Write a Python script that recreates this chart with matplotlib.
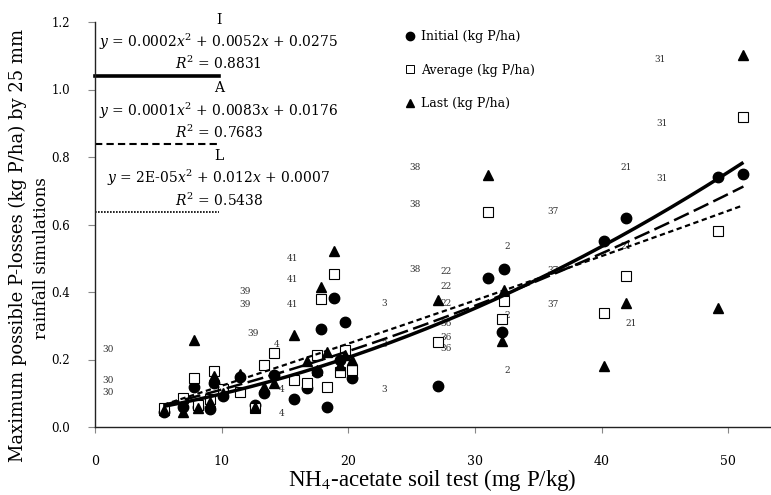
import numpy as np
import matplotlib
matplotlib.use("Agg")
import matplotlib.pyplot as plt
from matplotlib.lines import Line2D

# ---------------- data ----------------
soil_test = [5.4, 6.9, 7.8, 8.1, 9.1, 9.4, 10.1, 11.4, 12.6, 13.3, 14.1, 15.7, 16.7, 17.5,
             17.8, 18.3, 18.85, 19.3, 19.7, 20.25, 27.1, 31.05, 32.1, 32.3, 40.2, 41.95, 49.2, 51.2]
initial = [0.045, 0.060, 0.120, 0.058, 0.052, 0.131, 0.093, 0.147, 0.065, 0.100, 0.154, 0.084, 0.115, 0.164,
           0.289, 0.058, 0.383, 0.200, 0.311, 0.146, 0.121, 0.442, 0.282, 0.467, 0.552, 0.620, 0.740, 0.750]
average = [0.057, 0.087, 0.146, 0.065, 0.082, 0.167, 0.113, 0.105, 0.055, 0.184, 0.218, 0.139, 0.131, 0.213,
           0.379, 0.118, 0.453, 0.164, 0.228, 0.169, 0.251, 0.638, 0.319, 0.372, 0.338, 0.447, 0.580, 0.918]
last = [0.050, 0.045, 0.258, 0.055, 0.075, 0.151, 0.100, 0.157, 0.060, 0.119, 0.129, 0.272, 0.196, 0.170,
        0.415, 0.223, 0.521, 0.184, 0.213, 0.199, 0.376, 0.747, 0.255, 0.406, 0.182, 0.366, 0.352, 1.102]

# site labels (text, x, y)
site_labels = ["31", "31", "31", "21", "21", "21", "37", "37", "37", "2", "2", "2",
               "38", "38", "38", "22", "22", "22", "36", "36", "36", "3", "3", "3",
               "41", "41", "41", "39", "39", "39", "4", "4", "4", "30", "30", "30"]
site_x = [44.6, 44.8, 44.8, 41.95, 41.95, 42.3, 36.2, 36.2, 36.2, 32.55, 32.55, 32.55,
          25.3, 25.3, 25.3, 27.75, 27.75, 27.75, 27.75, 27.75, 27.75, 22.85, 22.85, 22.85,
          15.6, 15.6, 15.6, 11.8, 11.8, 12.5, 14.3, 14.7, 14.7, 1.0, 1.0, 1.0]
site_y = [1.090, 0.899, 0.737, 0.769, 0.534, 0.307, 0.638, 0.463, 0.363, 0.534, 0.330, 0.166,
          0.768, 0.660, 0.467, 0.460, 0.416, 0.367, 0.307, 0.265, 0.233, 0.367, 0.243, 0.112,
          0.500, 0.438, 0.364, 0.401, 0.364, 0.278, 0.243, 0.112, 0.041, 0.231, 0.139, 0.102]

# trend-line coefficients (quadratic: a, b, c)
coef_initial = [0.000187, 0.0052, 0.0275]
coef_average = [0.000103, 0.0083, 0.0176]
coef_last = [0.000016, 0.0120, 0.0007]

key_names = ["I", "A", "L"]
key_equations = [r"$y$ = 0.0002$x^2$ + 0.0052$x$ + 0.0275",
                 r"$y$ = 0.0001$x^2$ + 0.0083$x$ + 0.0176",
                 r"$y$ = 2E-05$x^2$ + 0.012$x$ + 0.0007"]
key_r2 = [r"$R^2$ = 0.8831", r"$R^2$ = 0.7683", r"$R^2$ = 0.5438"]
key_levels = [1.04, 0.838, 0.637]
key_x_end = 9.75

legend_labels = ["Initial (kg P/ha)", "Average (kg P/ha)", "Last (kg P/ha)"]
x_ticks = [0, 10, 20, 30, 40, 50]
y_ticks = [0.0, 0.2, 0.4, 0.6, 0.8, 1.0, 1.2]

# ---------------- figure ----------------
plt.rcParams['font.family'] = ['DejaVu Serif']
plt.rcParams['mathtext.fontset'] = 'dejavuserif'

W, H = 771, 495
fig = plt.figure(figsize=(W / 100, H / 100), dpi=100)
ax = fig.add_axes([95.2 / W, 68 / H, (770 - 95.2) / W, (427 - 22) / H])
ax.set_xlim(0, 53.3)
ax.set_ylim(0, 1.2)

for s in ["top", "right"]:
    ax.spines[s].set_visible(False)
for s in ["left", "bottom"]:
    ax.spines[s].set_linewidth(1.0)
    ax.spines[s].set_color("#222222")

ax.set_xticks(x_ticks)
ax.set_xticklabels([str(t) for t in x_ticks])
ax.set_yticks(y_ticks)
ax.set_yticklabels([f"{t:.1f}" for t in y_ticks])
ax.tick_params(axis="x", direction="out", length=4, width=0.8, color="#888888",
               labelsize=9, pad=16)
ax.tick_params(axis="y", direction="out", length=5, width=0.8, color="#888888",
               labelsize=8.5, pad=13)

# scatter series
ax.plot(soil_test, initial, linestyle="none", marker="o", markersize=7.5,
        color="black", zorder=2)
ax.plot(soil_test, average, linestyle="none", marker="s", markersize=7,
        markerfacecolor="white", markeredgecolor="black", markeredgewidth=0.8, zorder=2)
ax.plot(soil_test, last, linestyle="none", marker="^", markersize=7.5,
        color="black", zorder=2)

# trend lines
xs = np.linspace(min(soil_test), max(soil_test), 200)
ax.plot(xs, np.polyval(coef_initial, xs), color="black", lw=2.5, zorder=3,
        solid_capstyle="butt")
ax.plot(xs, np.polyval(coef_average, xs), color="black", lw=1.8, zorder=3,
        dashes=(6.5, 2.2))
ax.plot(xs, np.polyval(coef_last, xs), color="black", lw=1.6, zorder=3,
        dashes=(2.4, 1.6))

# key lines and equations (top left)
key_styles = [dict(lw=2.6, linestyle="-"),
              dict(lw=1.5, dashes=(3.5, 2.0)),
              dict(lw=1.2, dashes=(1.0, 0.8))]
for name, eq, r2, lev, st in zip(key_names, key_equations, key_r2, key_levels, key_styles):
    ax.plot([0, key_x_end], [lev, lev], color="black", clip_on=False, **st)
    ax.text(key_x_end, lev + 0.166, name, ha="center", va="center", fontsize=10)
    ax.text(key_x_end, lev + 0.100, eq, ha="center", va="center", fontsize=10)
    ax.text(key_x_end, lev + 0.036, r2, ha="center", va="center", fontsize=10)

# site labels
for t, x, y in zip(site_labels, site_x, site_y):
    ax.text(x, y, t, ha="center", va="center", fontsize=6.5, color="#333333", zorder=1)

# legend
handles = [Line2D([], [], linestyle="none", marker="o", markersize=6, color="black"),
           Line2D([], [], linestyle="none", marker="s", markersize=6, markerfacecolor="white",
                  markeredgecolor="black", markeredgewidth=0.7),
           Line2D([], [], linestyle="none", marker="^", markersize=6, color="black")]
ax.legend(handles, legend_labels, loc="upper left", bbox_to_anchor=(405 / W, (H - 30) / H),
          bbox_transform=fig.transFigure, frameon=False, fontsize=9, borderpad=0,
          handlelength=0.8, handletextpad=0.5, labelspacing=1.65, borderaxespad=0)

# axis labels
fig.text(18 / W, 1 - 245 / H, "Maximum possible P-losses (kg P/ha) by 25 mm",
         rotation=90, ha="center", va="center", fontsize=13)
fig.text(42 / W, 1 - 258 / H, "rainfall simulations",
         rotation=90, ha="center", va="center", fontsize=12)
fig.text(432 / W, 1 - 480 / H, r"NH$_4$-acetate soil test (mg P/kg)",
         ha="center", va="center", fontsize=16.5, family=["Liberation Serif"],
         math_fontfamily="stix")

fig.savefig("out.png", dpi=100)
